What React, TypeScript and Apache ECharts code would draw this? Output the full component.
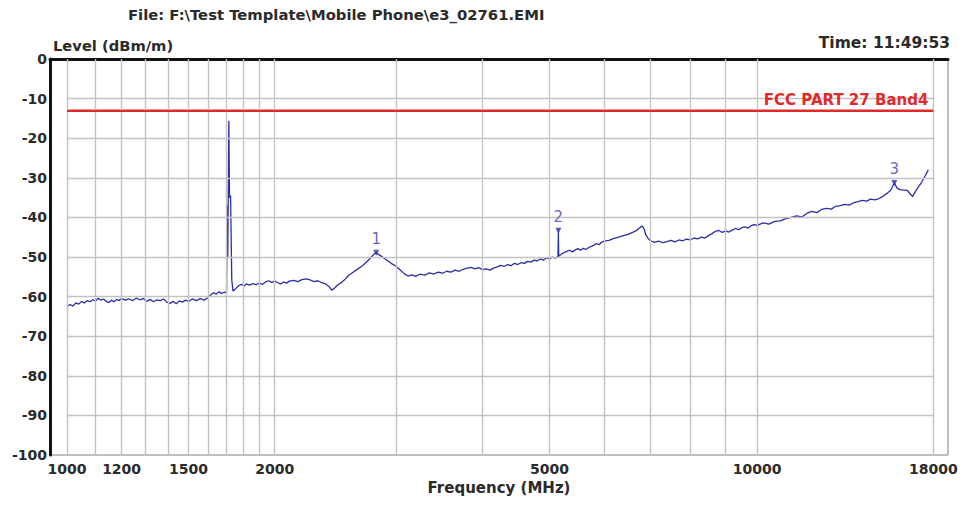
import React, { useEffect, useRef } from "react";
import * as echarts from "echarts";

const FREQ_MHZ = [
  1000, 1010, 1020, 1030, 1040, 1050, 1060, 1070, 1080, 1090, 1100, 1110, 1120, 1130, 1140, 1150, 1160, 1170, 1180, 1190,
  1200, 1215, 1230, 1245, 1260, 1275, 1290, 1305, 1320, 1335, 1350, 1365, 1380, 1395, 1410, 1425, 1440, 1455, 1470, 1485,
  1500, 1520, 1540, 1560, 1580, 1600, 1615, 1630, 1645, 1660, 1675, 1690, 1703, 1706, 1710, 1716, 1720, 1726, 1733, 1740,
  1750, 1760, 1775, 1790, 1805, 1820, 1840, 1860, 1880, 1900, 1920, 1940, 1960, 1980, 2000, 2020, 2040, 2060, 2080, 2100,
  2130, 2160, 2190, 2220, 2250, 2280, 2310, 2340, 2370, 2400, 2420, 2440, 2470, 2500, 2530, 2560, 2600, 2640, 2680, 2720,
  2760, 2790, 2806, 2830, 2870, 2910, 2950, 3000, 3040, 3080, 3120, 3160, 3200, 3250, 3300, 3350, 3400, 3450, 3500, 3550,
  3600, 3650, 3700, 3750, 3800, 3850, 3900, 3950, 4000, 4050, 4100, 4150, 4200, 4250, 4300, 4350, 4400, 4450, 4500, 4550,
  4600, 4650, 4700, 4750, 4800, 4850, 4900, 4950, 5000, 5050, 5100, 5145, 5152, 5158, 5200, 5250, 5300, 5350, 5400, 5450,
  5500, 5550, 5600, 5650, 5700, 5750, 5800, 5850, 5900, 5950, 6000, 6100, 6200, 6300, 6400, 6500, 6600, 6700, 6780, 6820,
  6860, 6900, 6950, 7000, 7100, 7200, 7300, 7400, 7500, 7600, 7700, 7800, 7900, 8000, 8100, 8200, 8300, 8400, 8500, 8600,
  8700, 8800, 8900, 9000, 9100, 9200, 9300, 9400, 9500, 9600, 9700, 9800, 9900, 10000, 10200, 10400, 10600, 10800, 11000, 11200,
  11400, 11600, 11800, 12000, 12200, 12400, 12600, 12800, 13000, 13200, 13400, 13600, 13800, 14000, 14200, 14400, 14600, 14800, 15000, 15200,
  15400, 15600, 15800, 15950, 16100, 16300, 16500, 16700, 16800, 16950, 17100, 17300, 17500, 17700,
];

const LEVEL_DBM = [
  -62.5, -62.0, -62.4, -61.6, -61.9, -61.2, -61.6, -61.0, -61.3, -60.8, -61.1, -60.4, -60.9, -60.6, -61.2, -61.5, -60.9, -61.3, -60.7, -61.0,
  -60.5, -60.9, -60.6, -61.0, -60.4, -60.8, -60.5, -61.2, -60.7, -61.3, -60.8, -61.0, -60.6, -61.4, -61.7, -61.2, -61.8, -61.1, -61.4, -60.9,
  -61.2, -60.6, -61.0, -60.5, -60.9, -60.3, -59.6, -59.0, -59.4, -58.8, -59.2, -58.9, -59.0, -37.0, -50.0, -15.6, -35.0, -34.5, -55.8, -58.6,
  -58.2, -57.8, -57.2, -56.9, -57.3, -56.8, -57.1, -56.7, -57.0, -56.6, -56.9, -56.3, -56.0, -56.4, -56.1, -56.5, -56.8, -56.3, -56.6, -56.1,
  -55.9, -56.2, -55.7, -55.5, -55.8, -56.2, -56.0, -56.5, -56.8, -57.6, -58.4, -57.9, -57.0, -56.4, -55.6, -54.6, -53.8, -53.0, -52.2, -51.2,
  -50.0, -49.2, -48.9, -49.4, -50.1, -50.8, -51.6, -52.4, -53.3, -54.2, -54.8, -54.5, -54.9, -54.3, -54.6, -54.0, -54.3, -53.8, -54.1, -53.6,
  -53.8, -53.3, -53.6, -53.1, -52.8, -52.6, -53.0, -52.7, -53.2, -53.0, -53.3, -52.8, -52.5, -52.1, -52.4, -51.9, -52.2, -51.6, -51.9, -51.4,
  -51.6, -51.1, -51.3, -50.8, -51.0, -50.5, -50.8, -50.2, -50.5, -50.0, -50.3, -49.9, -43.4, -49.8, -49.3, -48.9, -48.6, -48.3, -48.7, -48.2,
  -47.9, -48.3, -47.8, -48.1, -47.6, -47.3, -47.0, -46.6, -46.9, -46.3, -46.0, -45.8, -45.3, -45.0, -44.6, -44.3, -43.8, -43.2, -42.4, -42.2,
  -43.0, -44.5, -45.3, -45.9, -46.3, -46.0, -46.4, -46.1, -45.8, -46.2, -45.7, -45.9, -45.5, -45.7, -45.2, -45.4, -45.0, -45.2, -44.6, -44.1,
  -43.5, -43.3, -43.8, -43.4, -43.7, -43.2, -42.8, -43.1, -42.6, -42.4, -42.7, -42.1, -41.8, -42.0, -41.4, -41.7, -41.0, -40.9, -40.3, -40.0,
  -39.6, -39.9, -39.0, -38.5, -38.8, -38.0, -37.7, -37.9, -37.2, -37.0, -36.7, -36.9, -36.3, -36.0, -35.7, -35.9, -35.4, -35.6, -35.3, -34.7,
  -34.0, -33.2, -31.3, -32.6, -33.0, -33.1, -33.2, -34.3, -34.7, -33.5, -32.4, -31.2, -29.6, -28.0,
];

const MARKER_NAMES = ["1", "2", "3"];
const MARKER_FREQ = [2806, 5152, 15800];
const MARKER_LEVEL = [-48.9, -43.4, -31.3];

const LIMIT_NAME = "FCC PART 27 Band4";
const LIMIT_FREQ = [1000, 18000];
const LIMIT_LEVEL = [-13, -13];

const X_TICK_LABELS = [1000, 1200, 1500, 2000, 5000, 10000, 18000];
const X_GRID = [1000, 1100, 1200, 1300, 1400, 1500, 1600, 1700, 1800, 1900, 2000, 3000, 4000, 5000, 6000, 7000, 8000, 9000, 10000, 18000];
const Y_GRID = [-90, -80, -70, -60, -50, -40, -30, -20, -10];

const FONT = "'DejaVu Sans', 'Liberation Sans', Arial, sans-serif";
const TEXT_COLOR = "#2a2a2a";
const GRID_COLOR = "#c2c2c2";

export default function App() {
  const ref = useRef<HTMLDivElement>(null);

  useEffect(() => {
    if (!ref.current) return;
    const chart = echarts.init(ref.current, undefined, { renderer: "svg" });

    const trace = FREQ_MHZ.map((f, i) => [f, LEVEL_DBM[i]]);
    const markers = MARKER_FREQ.map((f, i) => ({ name: MARKER_NAMES[i], value: [f, MARKER_LEVEL[i]] }));
    const limit = LIMIT_FREQ.map((f, i) => [f, LIMIT_LEVEL[i]]);

    const gridLines: any[] = [
      ...X_GRID.map((x) => ({ xAxis: x })),
      ...Y_GRID.map((y) => [
        { coord: [X_GRID[0], y] },
        { coord: [X_GRID[X_GRID.length - 1], y] },
      ]),
    ];

    chart.setOption({
      animation: false,
      backgroundColor: "#ffffff",
      textStyle: { fontFamily: FONT },
      title: [
        {
          text: "File: F:\\Test Template\\Mobile Phone\\e3_02761.EMI",
          left: 128,
          top: 7,
          padding: 0,
          textStyle: { fontSize: 14.8, fontWeight: "bold", color: TEXT_COLOR, fontFamily: FONT },
        },
        {
          text: "Level (dBm/m)",
          left: 53,
          top: 38,
          padding: 0,
          textStyle: { fontSize: 14.7, fontWeight: "bold", color: TEXT_COLOR, fontFamily: FONT },
        },
        {
          text: "{n|Time: }{b|11:49:53}",
          right: 12,
          top: 35,
          padding: 0,
          textStyle: {
            fontFamily: FONT,
            rich: {
              n: { fontSize: 15.5, color: TEXT_COLOR, fontFamily: FONT },
              b: { fontSize: 15.5, color: TEXT_COLOR, fontWeight: "bold", fontFamily: FONT },
            },
          },
        },
      ],
      grid: {
        left: 50,
        right: 14,
        top: 59,
        bottom: 51,
        show: true,
        borderColor: "#808080",
        borderWidth: 1,
        backgroundColor: "#ffffff",
      },
      xAxis: {
        type: "log",
        logBase: 10,
        min: 945,
        max: 18900,
        name: "Frequency (MHz)",
        nameLocation: "middle",
        nameGap: 21,
        nameTextStyle: { fontSize: 15, fontWeight: "bold", color: TEXT_COLOR, fontFamily: FONT },
        axisLine: { show: true, lineStyle: { color: "#111", width: 3 } },
        axisTick: { show: false },
        splitLine: { show: false },
        minorSplitLine: { show: false },
        axisLabel: {
          customValues: X_TICK_LABELS,
          margin: 7,
          fontSize: 14,
          fontWeight: "bold",
          color: TEXT_COLOR,
          fontFamily: FONT,
          formatter: (v: number) => String(Math.round(v)),
        },
      },
      yAxis: {
        type: "value",
        min: -100,
        max: 0,
        interval: 10,
        axisLine: { show: true, lineStyle: { color: "#111", width: 3 } },
        axisTick: { show: false },
        splitLine: { show: false },
        axisLabel: {
          margin: 3,
          fontSize: 14,
          fontWeight: "bold",
          color: TEXT_COLOR,
          fontFamily: FONT,
        },
      },
      series: [
        {
          name: "grid",
          type: "line",
          data: [],
          z: 1,
          silent: true,
          markLine: {
            silent: true,
            symbol: "none",
            label: { show: false },
            lineStyle: { color: GRID_COLOR, width: 1.4, type: "solid" },
            emphasis: { disabled: true },
            data: gridLines,
          },
        },
        {
          name: LIMIT_NAME,
          type: "line",
          data: limit,
          z: 3,
          symbol: "none",
          silent: true,
          lineStyle: { color: "#e02a2a", width: 2 },
          markLine: {
            silent: true,
            symbol: "none",
            lineStyle: { color: "#e02a2a", width: 2, type: "solid" },
            label: {
              show: true,
              position: "insideEndTop",
              formatter: LIMIT_NAME,
              color: "#e02a2a",
              fontSize: 15,
              fontWeight: "bold",
              fontFamily: FONT,
              distance: [5, 3],
            },
            data: [[{ coord: limit[0] }, { coord: limit[1] }]],
          },
        },
        {
          name: "Level",
          type: "line",
          data: trace,
          z: 4,
          symbol: "none",
          silent: true,
          lineStyle: { color: "#2b2fa6", width: 1.3 },
        },
        {
          name: "Markers",
          type: "scatter",
          data: markers,
          z: 5,
          symbol: "triangle",
          symbolRotate: 180,
          symbolSize: 6,
          itemStyle: { color: "#2b2fa6" },
          label: {
            show: true,
            position: "top",
            distance: 3,
            formatter: "{b}",
            color: "#3a42b8",
            fontSize: 15,
            fontFamily: FONT,
          },
        },
      ],
    });

    return () => chart.dispose();
  }, []);

  return (
    <div
      ref={ref}
      style={{ position: "fixed", left: 0, top: 0, width: 962, height: 506, background: "#fff" }}
    />
  );
}
